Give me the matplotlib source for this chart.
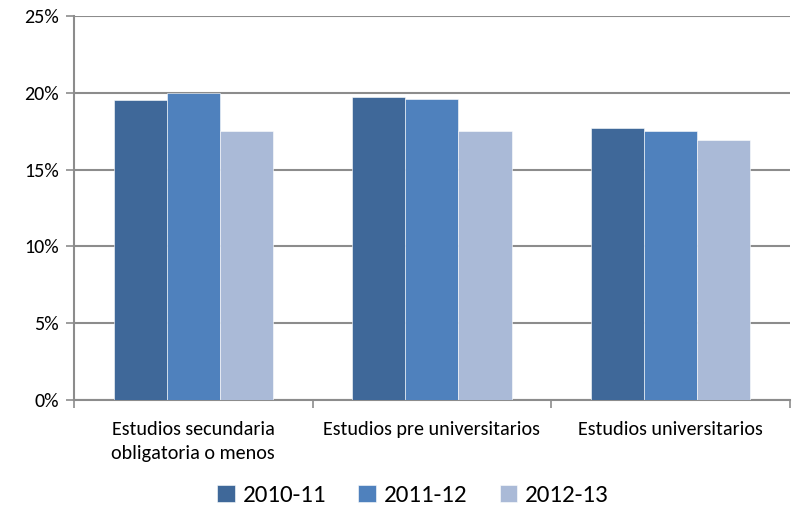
import matplotlib.pyplot as plt
import numpy as np

plt.rcParams['font.family'] = ['Carlito', 'Lato', 'DejaVu Sans']

categories = ["Estudios secundaria\nobligatoria o menos", "Estudios pre universitarios", "Estudios universitarios"]
series = ["2010-11", "2011-12", "2012-13"]
v2010 = [19.5, 19.7, 17.7]
v2011 = [20.0, 19.6, 17.5]
v2012 = [17.5, 17.5, 16.9]
colors = ["#3F6899", "#4F81BD", "#AABAD7"]

fig = plt.figure(figsize=(7.94, 5.16), dpi=100)
ax = fig.add_axes([0.093, 0.225, 0.902, 0.744])

x = np.arange(len(categories))
w = 1 / 4.5
for i, (vals, name) in enumerate(zip([v2010, v2011, v2012], series)):
    ax.bar(x + (i - 1) * w, vals, w, color=colors[i], label=name, zorder=3,
           edgecolor="white", linewidth=0.4)

ax.set_ylim(0, 25)
ax.set_xlim(-0.5, 2.5)
ax.set_yticks([0, 5, 10, 15, 20, 25])
ax.set_yticklabels([f"{t}%" for t in [0, 5, 10, 15, 20, 25]], fontsize=14.5)
ax.yaxis.grid(True, color="#8C8C8C", linewidth=1.5, zorder=0)
ax.set_xticks(x)
ax.set_xticklabels(categories, fontsize=14.5, linespacing=1.5)
ax.tick_params(axis="x", length=0, pad=15)
ax.set_xticks([-0.5, 0.5, 1.5, 2.5], minor=True)
ax.tick_params(axis="x", which="minor", length=6, color="#8C8C8C", width=1.2)
ax.tick_params(axis="y", length=6, color="#8C8C8C", width=1.2, pad=5)
for s in ["top", "right"]:
    ax.spines[s].set_visible(False)
for s in ["left", "bottom"]:
    ax.spines[s].set_color("#8C8C8C")
    ax.spines[s].set_linewidth(1.5)
for lab in ax.get_xticklabels():
    lab.set_horizontalalignment("center")

fig.legend(loc="lower center", bbox_to_anchor=(0.52, -0.025), ncol=3, frameon=False,
           fontsize=18, handlelength=0.7, handleheight=0.7, handletextpad=0.3, columnspacing=1.3)

fig.savefig("out.png", dpi=100)
